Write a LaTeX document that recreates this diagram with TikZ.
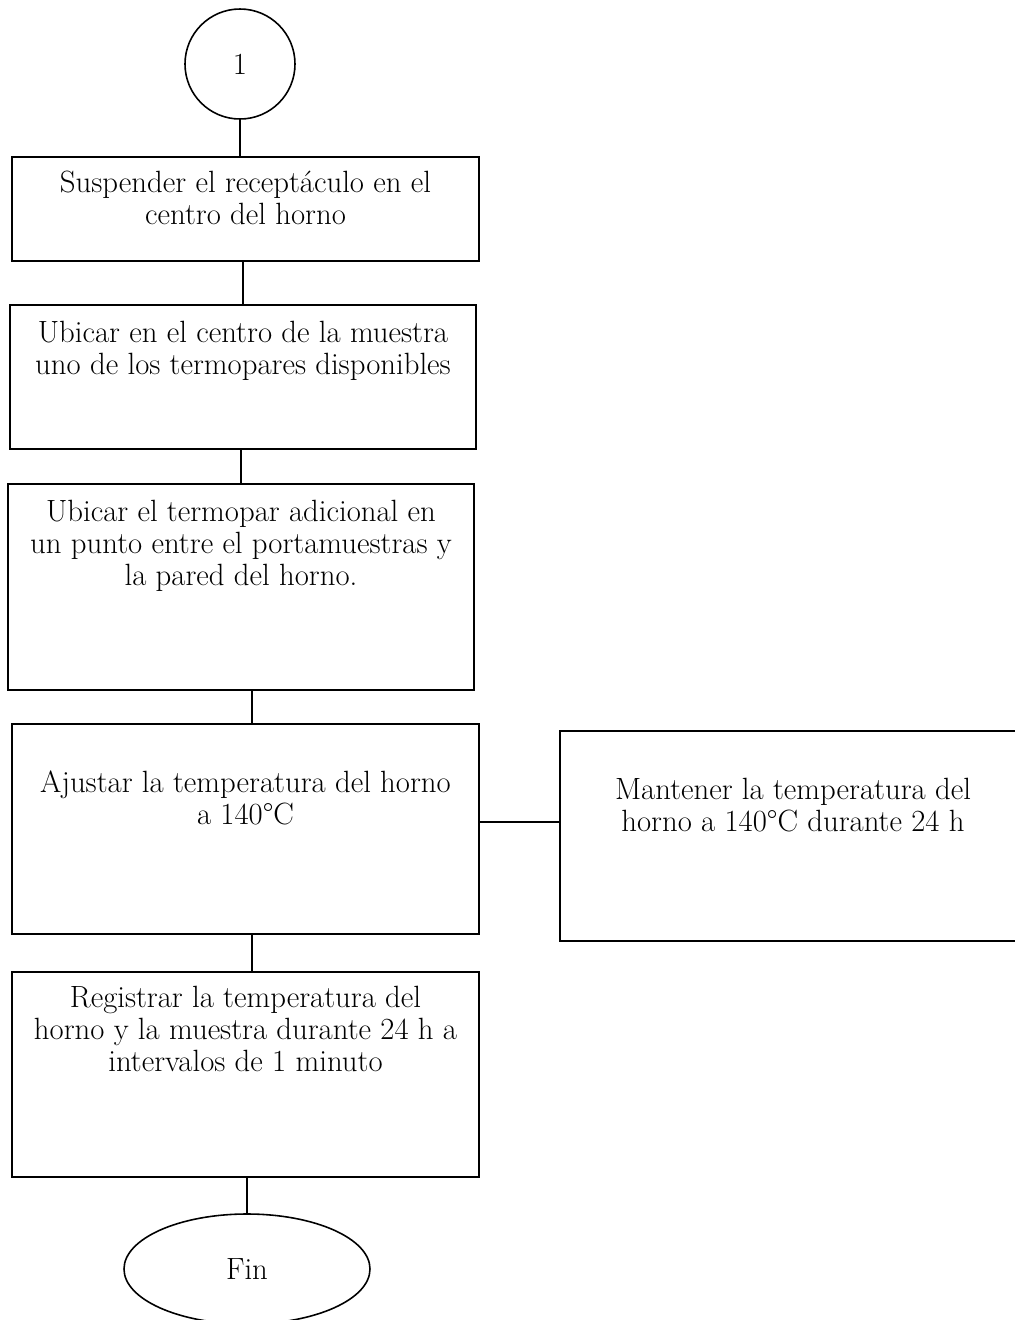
\documentclass[tikz,border=0pt]{standalone}
\usepackage{tikz}
\usetikzlibrary{positioning,shapes.geometric}
\tikzset{
  stepbox/.style={draw, rectangle, line width=0.9pt, minimum width=9.34cm, inner sep=0pt},
  steptext/.style={align=center, inner sep=0pt, font=\fontsize{17.5}{18.3}\selectfont},
  termnode/.style={draw, line width=0.9pt, inner sep=0pt, font=\fontsize{17.5}{18.3}\selectfont},
  connln/.style={line width=0.9pt},
}

\begin{document}
\begin{tikzpicture}
  \useasboundingbox (0,0) rectangle (20.3,-26.4);
  \node[termnode, circle, minimum size=2.2cm] (conector) at (4.80,-1.28) {1};
  \node[stepbox, minimum height=2.08cm] (suspender) at (4.91,-4.18) {};
  \node[stepbox, minimum width=9.32cm, minimum height=2.88cm] (ubicarcentro) at (4.86,-7.54) {};
  \node[stepbox, minimum width=9.32cm, minimum height=4.12cm] (ubicaradic) at (4.82,-11.74) {};
  \node[stepbox, minimum height=4.2cm] (ajustar) at (4.91,-16.58) {};
  \node[stepbox, minimum width=9.32cm, minimum height=4.2cm] (mantener) at (15.86,-16.72) {};
  \node[stepbox, minimum height=4.1cm] (registrar) at (4.91,-21.49) {};
  \node[termnode, ellipse, minimum width=4.92cm, minimum height=2.2cm] (fin) at (4.94,-25.38) {Fin};

  \node[steptext, below=0.29cm of suspender.north] (suspendertxt)
    {Suspender el receptáculo en el\\centro del horno};
  \node[steptext, below=0.33cm of ubicarcentro.north] (ubicarcentrotxt)
    {Ubicar en el centro de la muestra\\uno de los termopares disponibles};
  \node[steptext, below=0.33cm of ubicaradic.north] (ubicaradictxt)
    {Ubicar el termopar adicional en\\un punto entre el portamuestras y\\la pared del horno.};
  \node[steptext, below=0.95cm of ajustar.north] (ajustartxt)
    {Ajustar la temperatura del horno\\a 140°C};
  \node[steptext, below=0.95cm of mantener.north] (mantenertxt)
    {Mantener la temperatura del\\horno a 140°C durante 24 h};
  \node[steptext, below=0.29cm of registrar.north] (registrartxt)
    {Registrar la temperatura del\\horno y la muestra durante 24 h a\\intervalos de 1 minuto};

  \foreach \a/\b/\dx in {conector/suspender/0, suspender/ubicarcentro/-0.05,
      ubicarcentro/ubicaradic/-0.04, ubicaradic/ajustar/0.22,
      ajustar/registrar/0.13, registrar/fin/0.03} {
    \draw[connln] ([xshift=\dx cm]\a.south) -- ([xshift=\dx cm]\a.south |- \b.north);
  }
  \draw[connln] ([yshift=0.14cm]ajustar.east) -- ([yshift=0.14cm]ajustar.east -| mantener.west);
\end{tikzpicture}
\end{document}
